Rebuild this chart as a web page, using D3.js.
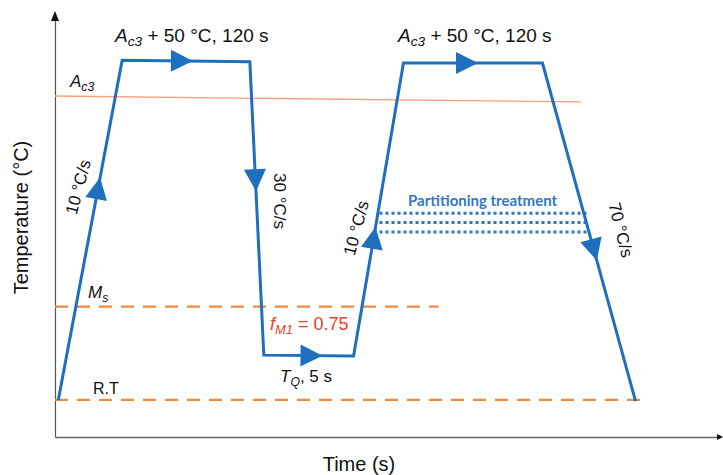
<!DOCTYPE html>
<html>
<head>
<meta charset="utf-8">
<script src="https://cdn.jsdelivr.net/npm/d3@7"></script>
<style>
  html, body { margin: 0; padding: 0; background: #fff; }
  svg { display: block; }
  text { font-family: "Liberation Sans", Arial, sans-serif; }
</style>
</head>
<body>
<svg id="chart" width="723" height="475"></svg>
<script>
// Schematic heat-treatment route (time and temperature in arbitrary units, 0–100)
const routeTime = [0.5, 10.1, 29.3, 31.4, 44.9, 52.4, 73.3, 87.3];
const routeTemp = [8.8, 89.3, 88.9, 19.4, 19.2, 88.6, 88.6, 8.5];

// Direction arrows: segment index and relative position along it
const arrowSegments = [0, 1, 2, 3, 4, 5, 6];
const arrowPositions = [0.62, 0.46, 0.40, 0.52, 0.40, 0.45, 0.55];

// Reference temperatures
const ac3Line = { time: [0, 79.1], temp: [80.8, 79.4] };
const msLine = { time: [0, 57.7], temp: [30.9, 30.9] };
const rtLine = { time: [0, 88.7], temp: [8.8, 8.8] };

// Partitioning treatment band (three dotted levels)
const partitionTemps = [53.0, 50.8, 48.6];
const partitionTime = [48.8, 80.3];

const rateLabels = ["10 °C/s", "30 °C/s", "10 °C/s", "70 °C/s"];

const svg = d3.select("#chart");
const x = d3.scaleLinear().domain([0, 100]).range([55, 720]);
const y = d3.scaleLinear().domain([0, 100]).range([437, 15]);

const blue = "#1f6fbf";
const orange = "#f28a3a";

// Axes without ticks
svg.append("g")
  .attr("transform", `translate(0,${y(0)})`)
  .call(d3.axisBottom(x).tickValues([]).tickSizeOuter(0))
  .call(g => g.select(".domain").attr("stroke", "#666").attr("stroke-width", 1.6));
svg.append("g")
  .attr("transform", `translate(${x(0)},0)`)
  .call(d3.axisLeft(y).tickValues([]).tickSizeOuter(0))
  .call(g => g.select(".domain").attr("stroke", "#555").attr("stroke-width", 1.2));

// Axis arrowheads
svg.append("path")
  .attr("d", `M${x(0)},${y(100) - 4} l-4,10 l8,0 z`)
  .attr("fill", "#111");
svg.append("path")
  .attr("d", `M${x(100) + 3},${y(0)} l-6,-3 l0,6 z`)
  .attr("fill", "#111");

// Reference lines
const line = d3.line().x(d => x(d[0])).y(d => y(d[1]));
svg.append("path")
  .attr("d", line(d3.zip(ac3Line.time, ac3Line.temp)))
  .attr("fill", "none").attr("stroke", "#f5a27c").attr("stroke-width", 1.3);
[msLine, rtLine].forEach(l => {
  svg.append("path")
    .attr("d", line(d3.zip(l.time, l.temp)))
    .attr("fill", "none").attr("stroke", orange)
    .attr("stroke-width", 2.4).attr("stroke-dasharray", "13,9");
});

// Partitioning band
partitionTemps.forEach(t => {
  svg.append("path")
    .attr("d", line(partitionTime.map(tt => [tt, t])))
    .attr("fill", "none").attr("stroke", "#2e78c6")
    .attr("stroke-width", 3).attr("stroke-dasharray", "3,3");
});
svg.append("text")
  .attr("x", x(64.3)).attr("y", y(54.7))
  .attr("text-anchor", "middle")
  .style("font-family", "Lato, 'Open Sans', sans-serif")
  .style("font-weight", 700).style("font-size", "15px")
  .attr("fill", "#2e78c6")
  .text("Partitioning treatment");

// Route
const route = d3.zip(routeTime, routeTemp);
svg.append("path")
  .attr("d", line(route))
  .attr("fill", "none").attr("stroke", blue)
  .attr("stroke-width", 3).attr("stroke-linejoin", "miter");

// Arrowheads on the route
arrowSegments.forEach((s, i) => {
  const p0 = [x(route[s][0]), y(route[s][1])];
  const p1 = [x(route[s + 1][0]), y(route[s + 1][1])];
  const t = arrowPositions[i];
  const cx = p0[0] + (p1[0] - p0[0]) * t;
  const cy = p0[1] + (p1[1] - p0[1]) * t;
  const ang = Math.atan2(p1[1] - p0[1], p1[0] - p0[0]) * 180 / Math.PI;
  svg.append("path")
    .attr("d", "M12,0 L-10,-11 L-10,11 Z")
    .attr("transform", `translate(${cx},${cy}) rotate(${ang})`)
    .attr("fill", blue);
});

// Labels with italic subscripts
function subLabel(px, py, size, parts, color) {
  const t = svg.append("text").attr("x", px).attr("y", py)
    .style("font-size", size + "px").attr("fill", color || "#111");
  parts.forEach(p => {
    const ts = t.append("tspan").text(p.text);
    if (p.italic) ts.style("font-style", "italic");
    if (p.sub) ts.style("font-size", (size * 0.72) + "px").attr("dy", size * 0.22);
    if (p.back) ts.attr("dy", -size * 0.22);
  });
  return t;
}
subLabel(115, 42, 19, [{ text: "A", italic: true }, { text: "c3", italic: true, sub: true }, { text: " + 50 °C, 120 s", back: true }]);
subLabel(398, 42, 19, [{ text: "A", italic: true }, { text: "c3", italic: true, sub: true }, { text: " + 50 °C, 120 s", back: true }]);
subLabel(70, 87, 17, [{ text: "A", italic: true }, { text: "c3", italic: true, sub: true }]);
subLabel(88, 298, 17, [{ text: "M", italic: true }, { text: "s", italic: true, sub: true }]);
svg.append("text").attr("x", 93).attr("y", 394).style("font-size", "16px").attr("fill", "#111").text("R.T");
subLabel(270, 330, 18, [{ text: "f", italic: true }, { text: "M1", italic: true, sub: true }, { text: " = 0.75", back: true }], "#e8412f");
subLabel(280, 382, 17, [{ text: "T", italic: true }, { text: "Q", italic: true, sub: true }, { text: ", 5 s", back: true }]);

// Rate labels along the ramps
const ratePos = [[78, 187, -75], [280, 201, 90], [356, 228, -75], [621, 230, 76]];
rateLabels.forEach((txt, i) => {
  const [px, py, r] = ratePos[i];
  svg.append("text")
    .attr("transform", `translate(${px},${py}) rotate(${r})`)
    .attr("text-anchor", "middle").attr("dy", "0.35em")
    .style("font-size", "17px").attr("fill", "#111")
    .text(txt);
});

// Axis titles
svg.append("text")
  .attr("transform", `translate(28,${y(52)}) rotate(-90)`)
  .attr("text-anchor", "middle")
  .style("font-size", "20px").attr("fill", "#111")
  .text("Temperature (°C)");
svg.append("text")
  .attr("x", 359).attr("y", 471)
  .attr("text-anchor", "middle")
  .style("font-size", "20px").attr("fill", "#111")
  .text("Time (s)");
</script>
</body>
</html>
